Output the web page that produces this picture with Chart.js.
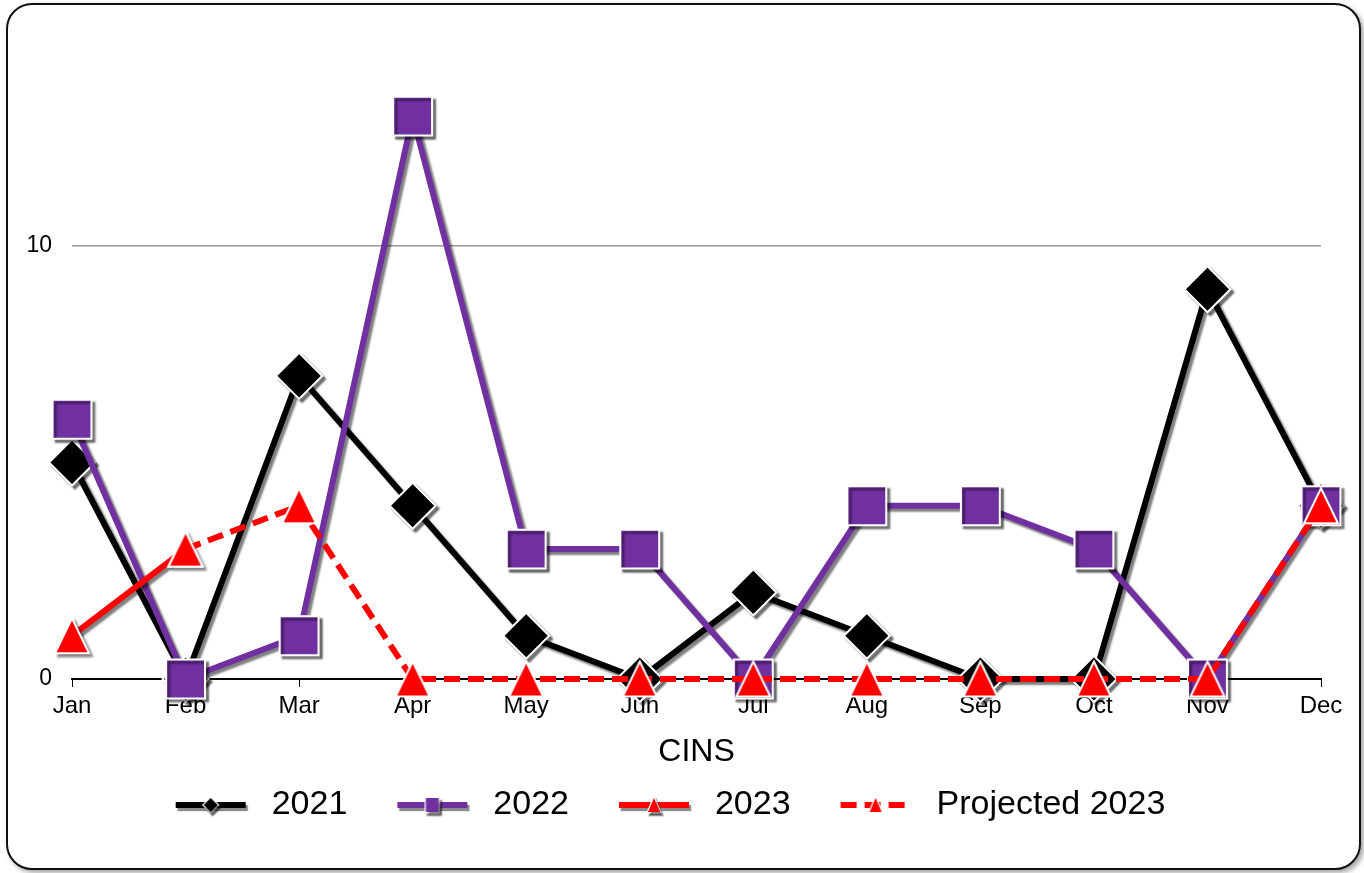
<!DOCTYPE html>
<html><head><meta charset="utf-8">
<script src="https://cdn.jsdelivr.net/npm/chart.js@4.4.0/dist/chart.umd.min.js"></script>
<style>
html,body{margin:0;padding:0;background:#fff;width:1364px;height:873px;overflow:hidden;}
#frame{position:absolute;left:6px;top:3px;width:1355px;height:867px;box-sizing:border-box;border:2.5px solid #111;border-radius:26px;box-shadow:3px 3px 5px rgba(0,0,0,0.35);background:#fff;}
#c{position:absolute;left:0;top:0;}
</style></head><body>
<div id="frame"></div>
<canvas id="c" width="1364" height="873"></canvas>
<script>
// ---- data ----
const months = ['Jan','Feb','Mar','Apr','May','Jun','Jul','Aug','Sep','Oct','Nov','Dec'];
const s2021 = [5, 0, 7, 4, 1, 0, 2, 1, 0, 0, 9, 4];
const s2022 = [6, 0, 1, 13, 3, 3, 0, 4, 4, 3, 0, 4];
const s2023 = [1, 3, null, null, null, null, null, null, null, null, null, null];
const proj2023 = [null, 3, 4, 0, 0, 0, 0, 0, 0, 0, 0, 4];
const yTicks = [0, 10];
const seriesNames = ['2021', '2022', '2023', 'Projected 2023'];
const axisTitle = 'CINS';

const FONT = "'Liberation Sans', Arial, sans-serif";
const BLACK = '#000000', PURPLE = '#7030A0', RED = '#FF0000';

function triImg(w, h, bw) {
  const c = document.createElement('canvas');
  c.width = Math.ceil(w + 2 * bw + 2); c.height = Math.ceil(h + 2 * bw + 2);
  const g = c.getContext('2d');
  const cx = c.width / 2, top = bw + 1;
  g.beginPath(); g.moveTo(cx, top); g.lineTo(cx + w / 2, top + h); g.lineTo(cx - w / 2, top + h); g.closePath();
  g.fillStyle = RED; g.fill();
  g.lineWidth = bw; g.strokeStyle = '#fff'; g.stroke();
  return c;
}
const triangle = triImg(34, 35, 2);

function legendImg(color, dashed, marker, shadow) {
  const W = 109, H = 34;
  const c = document.createElement('canvas'); c.width = W; c.height = H;
  const g = c.getContext('2d');
  const x0 = 30, x1 = 100, y = H / 2;
  g.save();
  if (shadow) { g.shadowColor = 'rgba(0,0,0,0.45)'; g.shadowOffsetX = 2; g.shadowOffsetY = 3; g.shadowBlur = 1; }
  g.strokeStyle = color; g.lineWidth = 6;
  if (dashed) g.setLineDash([16, 8]);
  g.beginPath(); g.moveTo(x0, y); g.lineTo(x1, y); g.stroke();
  g.setLineDash([]);
  const cx = (x0 + x1) / 2;
  g.fillStyle = color; g.strokeStyle = '#fff'; g.lineWidth = 2.5;
  g.beginPath();
  if (marker === 'diamond') { g.moveTo(cx, y - 7); g.lineTo(cx + 7, y); g.lineTo(cx, y + 7); g.lineTo(cx - 7, y); }
  else if (marker === 'square') { g.rect(cx - 6.5, y - 7, 13, 14); }
  else { g.moveTo(cx, y - 7); g.lineTo(cx + 6, y + 7); g.lineTo(cx - 6, y + 7); }
  g.closePath(); g.stroke(); g.fill();
  g.restore();
  return c;
}
const legendImgs = [
  legendImg(BLACK, false, 'diamond', true),
  legendImg(PURPLE, false, 'square', true),
  legendImg(RED, false, 'triangle', true),
  legendImg(RED, true, 'triangle', false)
];

const shadowPlugin = {
  id: 'lineShadow',
  beforeDatasetDraw(chart, args) {
    const ctx = chart.ctx; ctx.save();
    const ds = chart.data.datasets[args.index];
    if (ds.shadow) {
      ctx.shadowColor = 'rgba(0,0,0,0.5)';
      ctx.shadowOffsetX = 3; ctx.shadowOffsetY = 3; ctx.shadowBlur = 2;
    }
  },
  afterDatasetDraw(chart) { chart.ctx.restore(); }
};

new Chart(document.getElementById('c'), {
  type: 'line',
  data: {
    labels: months,
    datasets: [
      { label: seriesNames[0], data: s2021, order: 3, shadow: true,
        borderColor: BLACK, borderWidth: 6, backgroundColor: BLACK,
        pointStyle: 'rectRot', pointRadius: 23, pointBackgroundColor: BLACK,
        pointBorderColor: '#fff', pointBorderWidth: 2, clip: false, tension: 0 },
      { label: seriesNames[1], data: s2022, order: 2, shadow: true,
        borderColor: PURPLE, borderWidth: 6, backgroundColor: PURPLE,
        pointStyle: 'rect', pointRadius: 27.5, pointBackgroundColor: PURPLE,
        pointBorderColor: '#fff', pointBorderWidth: 2, clip: false, tension: 0 },
      { label: seriesNames[2], data: s2023, order: 1, shadow: true,
        borderColor: RED, borderWidth: 6, backgroundColor: RED,
        pointStyle: triangle, pointRadius: 18, clip: false, spanGaps: false, tension: 0 },
      { label: seriesNames[3], data: proj2023, order: 0, shadow: false,
        borderColor: RED, borderWidth: 6, borderDash: [16, 8], backgroundColor: RED,
        pointStyle: triangle, pointRadius: 18, clip: false, spanGaps: false, tension: 0 }
    ]
  },
  options: {
    responsive: false, animation: false, events: [],
    layout: { padding: { left: -10, right: 43, top: 25.5, bottom: 41 } },
    plugins: {
      tooltip: { enabled: false },
      legend: {
        position: 'bottom',
        labels: {
          usePointStyle: true, pointStyleWidth: 109, padding: 20, color: '#000',
          font: { family: FONT, size: 34 },
          generateLabels: (chart) => seriesNames.map((n, i) => ({
            text: n, datasetIndex: i, pointStyle: legendImgs[i], fillStyle: 'transparent',
            strokeStyle: 'transparent', lineWidth: 0, hidden: false, fontColor: '#000'
          }))
        }
      }
    },
    scales: {
      x: {
        offset: false,
        grid: { drawOnChartArea: false, drawTicks: true, tickLength: 8, color: '#000', lineWidth: 1 },
        border: { display: true, color: '#000', width: 2 },
        ticks: { color: '#000', padding: 7, autoSkip: false, maxRotation: 0,
                 font: { family: FONT, size: 24, lineHeight: 1 } },
        title: { display: true, text: axisTitle, color: '#000',
                 font: { family: FONT, size: 32, lineHeight: 1 }, padding: { top: 11, bottom: 0 } }
      },
      y: {
        min: 0, max: 15,
        afterBuildTicks: (s) => { s.ticks = yTicks.map(v => ({ value: v })); },
        afterFit: (s) => { s.width = 82; },
        grid: { drawTicks: false, lineWidth: 1.5,
                color: (c) => (c.tick && c.tick.value === 10) ? '#9a9a9a' : 'rgba(0,0,0,0)' },
        border: { display: false },
        ticks: { color: '#000', padding: 20, font: { family: FONT, size: 23, lineHeight: 0.2 } }
      }
    }
  },
  plugins: [shadowPlugin]
});
</script>
</body></html>
